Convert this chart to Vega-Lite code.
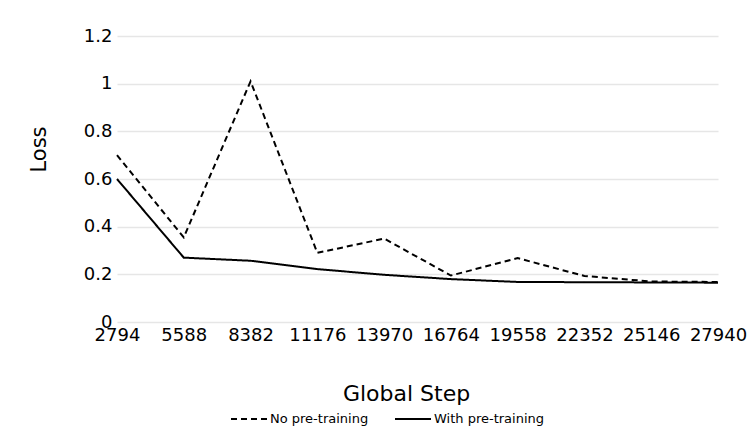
{
  "$schema": "https://vega.github.io/schema/vega-lite/v6.json",
  "autosize": "none",
  "width": 601,
  "height": 286,
  "padding": {"left": 117, "top": 36, "right": 35, "bottom": 106},
  "background": "white",
  "config": {
    "font": "DejaVu Sans",
    "view": {"stroke": null},
    "axis": {"labelColor": "black", "titleColor": "black", "titleFontWeight": "normal", "domain": false, "ticks": false}
  },
  "data": {
    "values": [
      {"step": 2794, "loss": 0.70, "series": "No pre-training"},
      {"step": 5588, "loss": 0.355, "series": "No pre-training"},
      {"step": 8382, "loss": 1.01, "series": "No pre-training"},
      {"step": 11176, "loss": 0.29, "series": "No pre-training"},
      {"step": 13970, "loss": 0.35, "series": "No pre-training"},
      {"step": 16764, "loss": 0.195, "series": "No pre-training"},
      {"step": 19558, "loss": 0.268, "series": "No pre-training"},
      {"step": 22352, "loss": 0.193, "series": "No pre-training"},
      {"step": 25146, "loss": 0.17, "series": "No pre-training"},
      {"step": 27940, "loss": 0.168, "series": "No pre-training"},
      {"step": 2794, "loss": 0.60, "series": "With pre-training"},
      {"step": 5588, "loss": 0.27, "series": "With pre-training"},
      {"step": 8382, "loss": 0.257, "series": "With pre-training"},
      {"step": 11176, "loss": 0.222, "series": "With pre-training"},
      {"step": 13970, "loss": 0.198, "series": "With pre-training"},
      {"step": 16764, "loss": 0.18, "series": "With pre-training"},
      {"step": 19558, "loss": 0.168, "series": "With pre-training"},
      {"step": 22352, "loss": 0.167, "series": "With pre-training"},
      {"step": 25146, "loss": 0.166, "series": "With pre-training"},
      {"step": 27940, "loss": 0.165, "series": "With pre-training"}
    ]
  },
  "mark": {"type": "line", "color": "black", "strokeWidth": 2},
  "encoding": {
    "x": {
      "field": "step",
      "type": "quantitative",
      "scale": {"domain": [2794, 27940], "nice": false, "zero": false},
      "axis": {
        "values": [2794, 5588, 8382, 11176, 13970, 16764, 19558, 22352, 25146, 27940],
        "format": "d",
        "grid": false,
        "labelFontSize": 18,
        "labelPadding": 4,
        "labelFlush": false,
        "labelOverlap": false,
        "title": "Global Step",
        "titleFontSize": 22,
        "titleX": 289,
        "titleY": 78,
        "titleAlign": "center",
        "titleBaseline": "alphabetic"
      }
    },
    "y": {
      "field": "loss",
      "type": "quantitative",
      "scale": {"domain": [0, 1.2], "nice": false},
      "axis": {
        "values": [0, 0.2, 0.4, 0.6, 0.8, 1, 1.2],
        "format": "~g",
        "grid": true,
        "gridColor": "#e6e6e6",
        "gridWidth": 1.5,
        "labelFontSize": 18,
        "labelPadding": 5,
        "title": "Loss",
        "titleFontSize": 21,
        "titleAngle": 270,
        "titleAlign": "center",
        "titleBaseline": "middle",
        "titleX": -78,
        "titleY": 113
      }
    },
    "strokeDash": {
      "field": "series",
      "type": "nominal",
      "scale": {"domain": ["No pre-training", "With pre-training"], "range": [[6, 4], [1, 0]]},
      "legend": {
        "orient": "none",
        "legendX": 113,
        "legendY": 364,
        "direction": "horizontal",
        "title": null,
        "labelFontSize": 13,
        "labelColor": "black",
        "labelOffset": 2,
        "symbolType": "stroke",
        "symbolSize": 1296,
        "symbolStrokeWidth": 2,
        "symbolStrokeColor": "black",
        "columnPadding": 22,
        "padding": 0
      }
    }
  }
}
